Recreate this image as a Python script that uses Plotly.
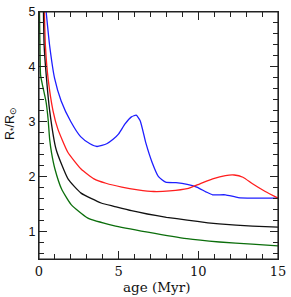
import plotly.graph_objects as go

# ---- data ----
blue_x = [0.45, 0.67, 0.98, 1.39, 2.00, 2.61, 3.20, 3.64, 4.25, 4.65, 5.00, 5.40, 5.80, 6.10, 6.35, 6.70, 7.10, 7.50, 7.95, 8.60, 9.30, 9.90, 10.50, 10.90, 11.70, 12.50, 13.40, 15.00]
blue_y = [5.00, 4.38, 3.79, 3.38, 3.00, 2.73, 2.60, 2.55, 2.60, 2.68, 2.78, 2.96, 3.09, 3.12, 3.02, 2.62, 2.26, 2.00, 1.90, 1.89, 1.86, 1.81, 1.72, 1.67, 1.67, 1.62, 1.61, 1.61]

red_x = [0.34, 0.40, 0.57, 0.88, 1.18, 1.80, 2.64, 3.45, 4.20, 5.20, 6.20, 7.20, 8.20, 9.30, 10.10, 10.90, 11.70, 12.25, 12.80, 13.40, 14.20, 15.00]
red_y = [5.00, 4.40, 3.79, 3.20, 2.87, 2.45, 2.14, 1.96, 1.88, 1.81, 1.76, 1.73, 1.74, 1.78, 1.87, 1.96, 2.02, 2.03, 1.99, 1.87, 1.73, 1.61]

black_x = [0.28, 0.32, 0.47, 0.67, 1.08, 1.82, 2.64, 3.90, 4.70, 5.80, 6.80, 8.00, 9.30, 10.60, 11.30, 13.40, 15.00]
black_y = [5.00, 4.40, 3.79, 3.20, 2.49, 1.96, 1.70, 1.52, 1.46, 1.38, 1.32, 1.26, 1.21, 1.16, 1.14, 1.10, 1.08]

green_x = [0.03, 0.06, 0.10, 0.24, 0.45, 0.57, 0.67, 0.79, 1.00, 1.41, 2.02, 3.04, 4.68, 6.83, 9.28, 11.33, 13.37, 15.00]
green_y = [5.00, 4.38, 3.85, 3.64, 3.35, 3.05, 2.68, 2.43, 2.14, 1.78, 1.49, 1.25, 1.11, 0.99, 0.87, 0.81, 0.77, 0.74]

x_range = [0, 15]
y_range = [0.5, 5]
x_ticks = [0, 5, 10, 15]
y_ticks = [1, 2, 3, 4, 5]

series = [
    (blue_x, blue_y, "#1e1eff"),
    (red_x, red_y, "#ff1e1e"),
    (black_x, black_y, "#111111"),
    (green_x, green_y, "#0b6e0b"),
]

fig = go.Figure()
for xs, ys, col in series:
    fig.add_trace(go.Scatter(x=xs, y=ys, mode="lines",
                             line=dict(color=col, width=1.3, shape="spline", smoothing=0.5),
                             showlegend=False, hoverinfo="skip"))
# the black curve again on the top/right axes so those tick axes are drawn (fully transparent)
fig.add_trace(go.Scatter(x=black_x, y=black_y, xaxis="x2", yaxis="y2", mode="lines",
                         line=dict(color="rgba(0,0,0,0)", width=1), showlegend=False, hoverinfo="skip"))

TC = "#222222"
xminor = dict(ticks="inside", ticklen=5, tickmode="linear", tick0=0, dtick=1,
              tickwidth=1.1, tickcolor=TC, showgrid=False)
yminor = dict(ticks="inside", ticklen=5, tickmode="linear", tick0=0, dtick=0.2,
              tickwidth=1.1, tickcolor=TC, showgrid=False)
common = dict(showgrid=False, zeroline=False, showline=True, linecolor=TC, linewidth=1.2,
              ticks="inside", ticklen=8, tickwidth=1.3, tickcolor=TC, tickmode="array")

fig.update_layout(
    xaxis=dict(range=x_range, tickvals=x_ticks, ticktext=[str(v) for v in x_ticks],
               tickfont=dict(family="DejaVu Serif", size=13, color="#111"), minor=xminor,
               ticklabeloverflow="allow", **common),
    yaxis=dict(range=y_range, tickvals=y_ticks, ticktext=[str(v) for v in y_ticks],
               tickfont=dict(family="Liberation Sans", size=12.5, color="#111"), minor=yminor,
               ticklabeloverflow="allow", **common),
    xaxis2=dict(range=x_range, tickvals=x_ticks, showticklabels=False, side="top",
                overlaying="x", anchor="y2", minor=xminor, **common),
    yaxis2=dict(range=y_range, tickvals=y_ticks, showticklabels=False, side="right",
                overlaying="y", anchor="x2", minor=yminor, **common),
)

# plot frame (outline only)
fig.add_shape(type="rect", xref="paper", yref="paper", x0=0, y0=0, x1=1, y1=1,
              line=dict(color=TC, width=1.2), fillcolor="rgba(0,0,0,0)", opacity=1, layer="above")

fig.add_annotation(text="age (Myr)", xref="paper", yref="paper", x=0.49, y=-0.115,
                   xanchor="center", yanchor="middle", showarrow=False,
                   font=dict(family="DejaVu Serif", size=13.5, color="#111"))
fig.add_annotation(text="R<sub>*</sub>/R<sub>⊙</sub>", xref="paper", yref="paper", x=-0.118, y=0.55,
                   xanchor="center", yanchor="middle", showarrow=False, textangle=-90,
                   font=dict(family="Liberation Sans", size=12.5, color="#111"))

fig.update_layout(width=291, height=297, margin=dict(l=39, r=8, t=5, b=38),
                  paper_bgcolor="white", plot_bgcolor="white", template="simple_white")

fig.write_html("out.html", config={"displayModeBar": False},
               post_script="document.body.style.margin='0';document.body.style.overflow='hidden';")
